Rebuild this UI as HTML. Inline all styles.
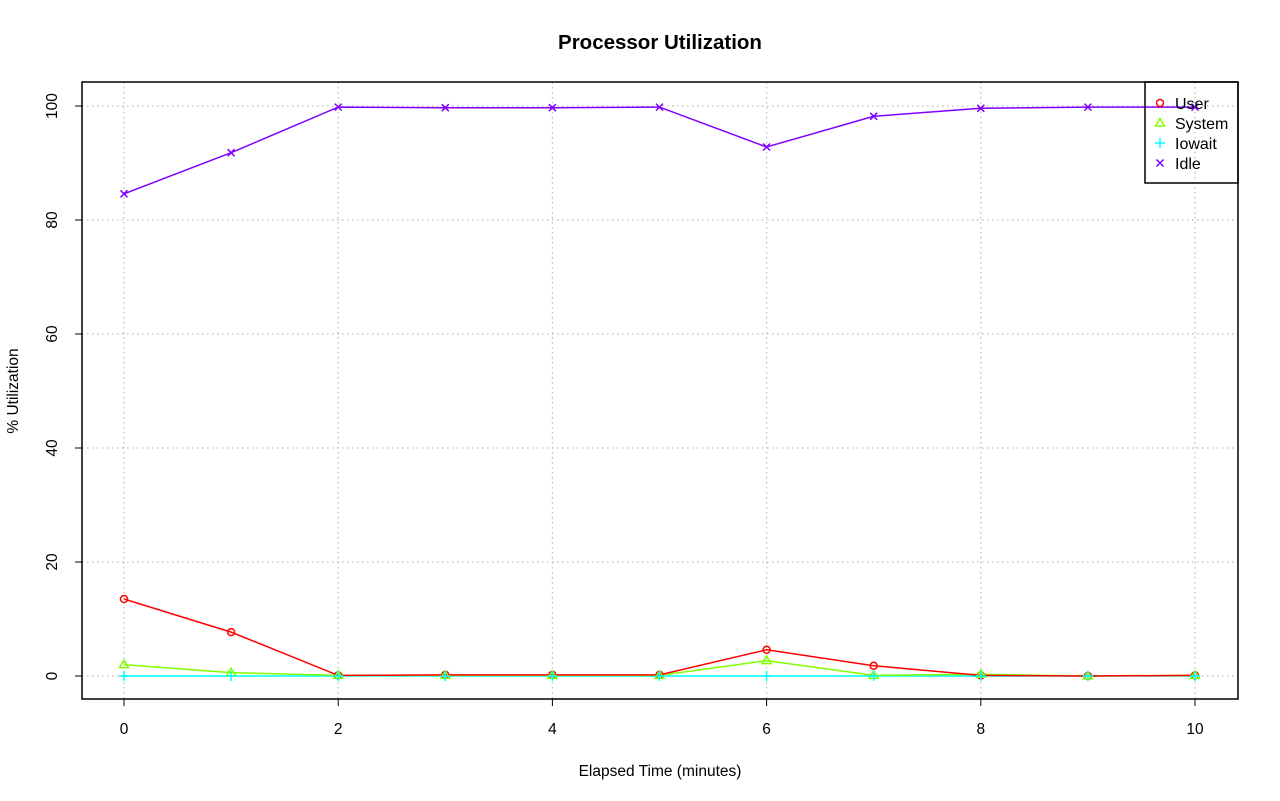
<!DOCTYPE html>
<html><head><style>body{margin:0;background:#fff}svg{display:block}</style></head><body>
<svg width="1280" height="801" xmlns="http://www.w3.org/2000/svg" font-family="Liberation Sans, sans-serif">
<rect width="1280" height="801" fill="#fff"/>
<text x="660" y="49" text-anchor="middle" font-size="20.5" font-weight="bold">Processor Utilization</text>
<g stroke="#bbb" stroke-dasharray="1.5,3.5" stroke-width="1.2">
<line x1="124" y1="82" x2="124" y2="699"/><line x1="338.2" y1="82" x2="338.2" y2="699"/><line x1="552.4" y1="82" x2="552.4" y2="699"/><line x1="766.6" y1="82" x2="766.6" y2="699"/><line x1="980.8" y1="82" x2="980.8" y2="699"/><line x1="1195" y1="82" x2="1195" y2="699"/>
<line x1="82" y1="676" x2="1238" y2="676"/><line x1="82" y1="562" x2="1238" y2="562"/><line x1="82" y1="448" x2="1238" y2="448"/><line x1="82" y1="334" x2="1238" y2="334"/><line x1="82" y1="220" x2="1238" y2="220"/><line x1="82" y1="106" x2="1238" y2="106"/>
</g>
<g stroke="#000" fill="none"><rect x="82" y="82" width="1156" height="617" stroke-width="1.5"/>
<path d="M124 699v7M338.2 699v7M552.4 699v7M766.6 699v7M980.8 699v7M1195 699v7M82 676h-7M82 562h-7M82 448h-7M82 334h-7M82 220h-7M82 106h-7M124 699H1195M82 106V676"/></g>
<g font-size="15.5" text-anchor="middle"><text x="124" y="734">0</text><text x="338.2" y="734">2</text><text x="552.4" y="734">4</text><text x="766.6" y="734">6</text><text x="980.8" y="734">8</text><text x="1195" y="734">10</text>
<text x="660" y="776">Elapsed Time (minutes)</text>
<g transform="translate(57,0)"><text transform="translate(0,676) rotate(-90)">0</text><text transform="translate(0,562) rotate(-90)">20</text><text transform="translate(0,448) rotate(-90)">40</text><text transform="translate(0,334) rotate(-90)">60</text><text transform="translate(0,220) rotate(-90)">80</text><text transform="translate(0,106) rotate(-90)">100</text></g>
<text transform="translate(18,391) rotate(-90)">% Utilization</text></g>
<polyline fill="none" stroke="#00ffff" stroke-width="1.5" points="124,676 231.1,676 338.2,676 445.3,676 552.4,676 659.5,676 766.6,676 873.7,676 980.8,676 1087.9,676 1195,676"/>
<polyline fill="none" stroke="#80ff00" stroke-width="1.5" points="124,664.6 231.1,672.6 338.2,675.4 445.3,675.4 552.4,675.4 659.5,675.4 766.6,660.6 873.7,675.4 980.8,674.3 1087.9,676 1195,675.4"/>
<polyline fill="none" stroke="#ff0000" stroke-width="1.5" points="124,599 231.1,632.1 338.2,675.4 445.3,674.9 552.4,674.9 659.5,674.9 766.6,649.8 873.7,665.7 980.8,675.4 1087.9,676 1195,675.4"/>
<polyline fill="none" stroke="#8000ff" stroke-width="1.5" points="124,193.8 231.1,152.7 338.2,107.1 445.3,107.7 552.4,107.7 659.5,107.1 766.6,147 873.7,116.3 980.8,108.3 1087.9,107.1 1195,107.1"/>
<g fill="none" stroke="#ff0000" stroke-width="1.5"><circle cx="124" cy="599" r="3.5"/><circle cx="231.1" cy="632.1" r="3.5"/><circle cx="338.2" cy="675.4" r="3.5"/><circle cx="445.3" cy="674.9" r="3.5"/><circle cx="552.4" cy="674.9" r="3.5"/><circle cx="659.5" cy="674.9" r="3.5"/><circle cx="766.6" cy="649.8" r="3.5"/><circle cx="873.7" cy="665.7" r="3.5"/><circle cx="980.8" cy="675.4" r="3.5"/><circle cx="1087.9" cy="676" r="3.5"/><circle cx="1195" cy="675.4" r="3.5"/><circle cx="1160" cy="103" r="3.5"/></g>
<g fill="none" stroke="#80ff00" stroke-width="1.5">
<path d="M124 660.1l4.5 7.5h-9z"/><path d="M231.1 668.1l4.5 7.5h-9z"/><path d="M338.2 670.9l4.5 7.5h-9z"/><path d="M445.3 670.9l4.5 7.5h-9z"/><path d="M552.4 670.9l4.5 7.5h-9z"/><path d="M659.5 670.9l4.5 7.5h-9z"/><path d="M766.6 656.1l4.5 7.5h-9z"/><path d="M873.7 670.9l4.5 7.5h-9z"/><path d="M980.8 669.8l4.5 7.5h-9z"/><path d="M1087.9 671.5l4.5 7.5h-9z"/><path d="M1195 670.9l4.5 7.5h-9z"/><path d="M1160 118.5l4.5 7.5h-9z"/></g>
<g stroke="#00ffff" stroke-width="1.5"><path d="M119 676h10M124 671v10M226.1 676h10M231.1 671v10M333.2 676h10M338.2 671v10M440.3 676h10M445.3 671v10M547.4 676h10M552.4 671v10M654.5 676h10M659.5 671v10M761.6 676h10M766.6 671v10M868.7 676h10M873.7 671v10M975.8 676h10M980.8 671v10M1082.9 676h10M1087.9 671v10M1190 676h10M1195 671v10M1155 143h10M1160 138v10"/></g>
<g stroke="#8000ff" stroke-width="1.5"><path d="M120.5 190.3l7 7m0-7l-7 7M227.6 149.2l7 7m0-7l-7 7M334.7 103.6l7 7m0-7l-7 7M441.8 104.2l7 7m0-7l-7 7M548.9 104.2l7 7m0-7l-7 7M656 103.6l7 7m0-7l-7 7M763.1 143.5l7 7m0-7l-7 7M870.2 112.8l7 7m0-7l-7 7M977.3 104.8l7 7m0-7l-7 7M1084.4 103.6l7 7m0-7l-7 7M1191.5 103.6l7 7m0-7l-7 7M1156.5 159.5l7 7m0-7l-7 7"/></g>
<rect x="1145" y="82" width="93" height="101" fill="none" stroke="#000" stroke-width="1.5"/>
<g font-size="16"><text x="1175" y="109">User</text><text x="1175" y="129">System</text><text x="1175" y="149">Iowait</text><text x="1175" y="169">Idle</text></g>
</svg>
</body></html>
